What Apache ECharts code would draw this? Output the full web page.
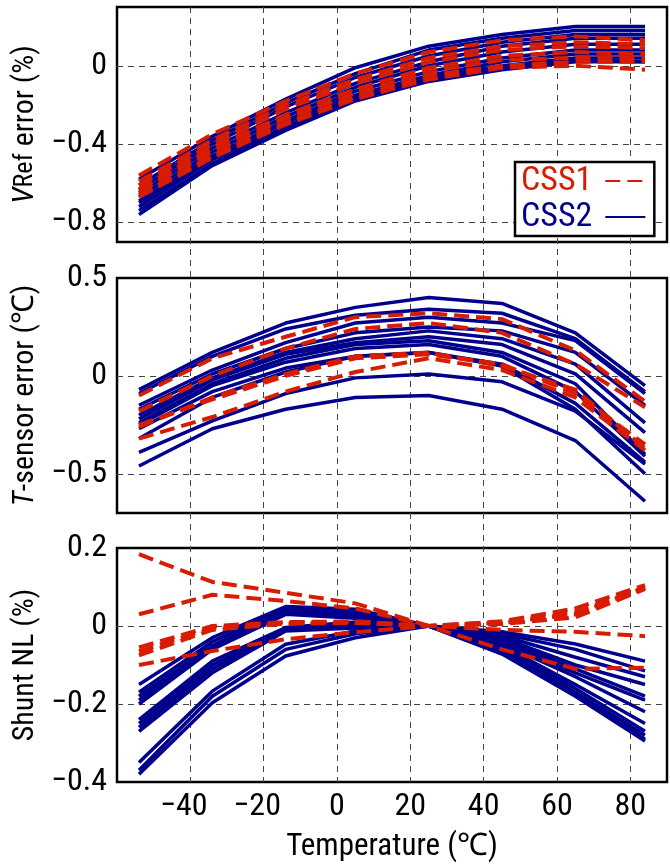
<!DOCTYPE html>
<html>
<head>
<meta charset="utf-8">
<script src="https://cdn.jsdelivr.net/npm/echarts@6/dist/echarts.min.js"></script>
<style>
html,body{margin:0;padding:0;background:#fff;}
#chart{width:670px;height:867px;}
</style>
</head>
<body>
<div id="chart"></div>
<script>
// ---- data ----
const temps = [-54, -34, -14, 5, 25, 45, 65, 84];

// Panel 1: VRef error (%)
const vrefCss1 = [
  [-0.56, -0.35, -0.18, -0.04, 0.07, 0.13, 0.15, 0.13],
  [-0.59, -0.38, -0.20, -0.07, 0.04, 0.10, 0.12, 0.11],
  [-0.61, -0.40, -0.22, -0.09, 0.02, 0.08, 0.10, 0.09],
  [-0.63, -0.42, -0.25, -0.12, -0.01, 0.05, 0.07, 0.06],
  [-0.64, -0.44, -0.27, -0.14, -0.03, 0.03, 0.04, 0.04],
  [-0.66, -0.46, -0.29, -0.16, -0.05, 0.00, 0.02, 0.02],
  [-0.67, -0.47, -0.30, -0.17, -0.07, -0.01, 0.00, -0.02]
];
const vrefCss2 = [
  [-0.58, -0.36, -0.17, -0.01, 0.10, 0.16, 0.20, 0.20],
  [-0.61, -0.38, -0.19, -0.04, 0.08, 0.14, 0.18, 0.18],
  [-0.63, -0.40, -0.21, -0.06, 0.05, 0.12, 0.16, 0.16],
  [-0.65, -0.42, -0.24, -0.09, 0.02, 0.10, 0.14, 0.14],
  [-0.67, -0.44, -0.26, -0.11, 0.00, 0.07, 0.11, 0.11],
  [-0.69, -0.46, -0.28, -0.13, -0.03, 0.04, 0.08, 0.08],
  [-0.70, -0.47, -0.29, -0.15, -0.05, 0.02, 0.06, 0.06],
  [-0.72, -0.48, -0.31, -0.16, -0.06, 0.00, 0.04, 0.04],
  [-0.74, -0.50, -0.32, -0.17, -0.07, -0.01, 0.03, 0.02],
  [-0.76, -0.51, -0.33, -0.18, -0.08, -0.02, 0.02, 0.02]
];

// Panel 2: T-sensor error (degC)
const tsenCss1 = [
  [-0.10, 0.09, 0.20, 0.30, 0.32, 0.29, 0.13, -0.13],
  [-0.18, 0.00, 0.14, 0.24, 0.27, 0.22, 0.06, -0.16],
  [-0.25, -0.12, 0.00, 0.09, 0.11, 0.06, -0.09, -0.35],
  [-0.26, -0.11, 0.01, 0.10, 0.12, 0.05, -0.07, -0.37],
  [-0.32, -0.21, -0.08, 0.02, 0.09, 0.03, -0.11, -0.38]
];
const tsenCss2 = [
  [-0.07, 0.12, 0.27, 0.35, 0.40, 0.37, 0.22, -0.05],
  [-0.09, 0.10, 0.24, 0.31, 0.34, 0.32, 0.19, -0.08],
  [-0.15, 0.03, 0.17, 0.27, 0.30, 0.27, 0.18, -0.09],
  [-0.17, 0.01, 0.14, 0.22, 0.25, 0.23, 0.12, -0.15],
  [-0.20, -0.01, 0.12, 0.19, 0.23, 0.19, 0.06, -0.24],
  [-0.22, -0.02, 0.11, 0.17, 0.20, 0.16, 0.01, -0.29],
  [-0.24, -0.04, 0.09, 0.16, 0.18, 0.12, -0.04, -0.40],
  [-0.25, -0.05, 0.07, 0.14, 0.16, 0.10, -0.08, -0.41],
  [-0.27, -0.08, 0.04, 0.10, 0.12, 0.06, -0.14, -0.44],
  [-0.32, -0.11, 0.02, 0.10, 0.12, 0.05, -0.17, -0.50],
  [-0.39, -0.23, -0.09, -0.01, 0.01, -0.03, -0.18, -0.45],
  [-0.46, -0.27, -0.17, -0.11, -0.10, -0.17, -0.33, -0.64]
];

// Panel 3: Shunt NL (%)
const shuntCss1 = [
  [0.184, 0.113, 0.085, 0.058, 0.00, -0.060, -0.110, -0.107],
  [0.030, 0.080, 0.064, 0.045, 0.00, -0.010, -0.015, -0.026],
  [-0.055, 0.000, 0.010, 0.012, 0.00, 0.012, 0.045, 0.105],
  [-0.065, -0.005, 0.008, 0.010, 0.00, 0.010, 0.035, 0.100],
  [-0.075, -0.010, 0.006, 0.008, 0.00, 0.008, 0.030, 0.098],
  [-0.100, -0.064, -0.034, -0.016, 0.00, 0.005, 0.022, 0.095]
];
const shuntCss2 = [
  [-0.15, -0.030, 0.050, 0.043, 0, -0.015, -0.046, -0.090],
  [-0.17, -0.040, 0.045, 0.035, 0, -0.020, -0.060, -0.115],
  [-0.18, -0.050, 0.040, 0.030, 0, -0.025, -0.080, -0.130],
  [-0.19, -0.055, 0.035, 0.025, 0, -0.030, -0.100, -0.150],
  [-0.20, -0.060, 0.030, 0.020, 0, -0.035, -0.110, -0.180],
  [-0.24, -0.090, -0.004, 0.010, 0, -0.040, -0.120, -0.190],
  [-0.25, -0.100, -0.008, 0.005, 0, -0.045, -0.130, -0.220],
  [-0.26, -0.110, -0.010, 0.000, 0, -0.050, -0.150, -0.250],
  [-0.27, -0.120, -0.013, -0.005, 0, -0.055, -0.160, -0.270],
  [-0.35, -0.167, -0.047, -0.013, 0, -0.060, -0.170, -0.280],
  [-0.37, -0.180, -0.060, -0.020, 0, -0.065, -0.175, -0.290],
  [-0.38, -0.197, -0.077, -0.030, 0, -0.072, -0.180, -0.295]
];

const xTickLabels = [-40, -20, 0, 20, 40, 60, 80];
const yTickLabels = [[0, -0.4, -0.8], [0.5, 0, -0.5], [0.2, 0, -0.2, -0.4]];
const yGridValues = [[0, -0.4, -0.8], [0, -0.5], [0, -0.2]];
const yRanges = [[-0.9, 0.3], [-0.7, 0.5], [-0.4, 0.2]];
const seriesNames = ['CSS1', 'CSS2'];

// ---- styling ----
const RED = '#d81c02';
const BLUE = '#00008c';
const FONT = "'Roboto Condensed', 'Liberation Sans', sans-serif";
const GRIDC = '#444';

function fmt(v) {
  const r = Math.round(v * 10) / 10;
  if (r === 0) return '0';
  return (r < 0 ? '\u2212' : '') + String(Math.abs(r));
}
function near(list, v) { return list.some(x => Math.abs(x - v) < 1e-6); }

const gridBoxes = [
  {left: 117, top: 7, width: 550, height: 235},
  {left: 117, top: 278, width: 550, height: 235},
  {left: 117, top: 548, width: 550, height: 234}
];

const grids = gridBoxes.map(g => Object.assign({show: true, borderColor: '#000', borderWidth: 2.5, backgroundColor: 'transparent'}, g));
grids.push({left: 117, top: 7, width: 550, height: 775, show: false});

const xAxes = [0, 1, 2].map(i => ({
  type: 'value', gridIndex: i, min: -60, max: 90, interval: 20,
  axisLine: {show: false}, axisTick: {show: false}, splitLine: {show: false},
  axisLabel: {
    show: i === 2, margin: 9, color: '#000', fontFamily: FONT, fontSize: 32,
    formatter: v => near(xTickLabels, v) ? (v < 0 ? '{n|\u2212' + Math.abs(v) + '}' : String(v)) : '',
    rich: {n: {padding: [0, 13, 0, 0], fontFamily: FONT, fontSize: 32, color: '#000'}}
  },
  name: i === 2 ? 'Temperature (\u2103)' : '',
  nameLocation: 'middle', nameGap: 50,
  nameTextStyle: {color: '#000', fontFamily: FONT, fontSize: 31}
}));
xAxes.push({
  type: 'value', gridIndex: 3, min: -60, max: 90, interval: 20,
  axisLine: {show: false}, axisTick: {show: false}, axisLabel: {show: false},
  splitLine: {show: true, lineStyle: {
    color: ['rgba(0,0,0,0)', GRIDC, GRIDC, GRIDC, GRIDC, GRIDC, GRIDC, GRIDC, 'rgba(0,0,0,0)'],
    type: [6, 5], width: 1}}
});

const yNames = [
  '{it|V}{sm|Ref} error (%)',
  '{it|T}-sensor error (\u2103)',
  'Shunt NL (%)'
];
const yAxes = [0, 1, 2].map(i => {
  const [mn, mx] = yRanges[i];
  const step = i === 2 ? 0.2 : 0.1;
  const n = Math.round((mx - mn) / step) + 1;
  const colors = [];
  for (let k = 0; k < n; k++) {
    const v = mn + k * step;
    colors.push(near(yGridValues[i], Math.round(v * 10) / 10) ? GRIDC : 'rgba(0,0,0,0)');
  }
  return {
    type: 'value', gridIndex: i, min: mn, max: mx, interval: step,
    axisLine: {show: false}, axisTick: {show: false},
    splitLine: {show: true, lineStyle: {color: colors, type: [6, 5], width: 1}},
    axisLabel: {
      margin: 10, color: '#000', fontFamily: FONT, fontSize: 32,
      formatter: v => near(yTickLabels[i], Math.round(v * 10) / 10) ? fmt(v) : ''
    },
    name: yNames[i], nameLocation: 'middle', nameRotate: 90, nameGap: 67,
    nameTextStyle: {
      color: '#000', fontFamily: FONT, fontSize: 30,
      rich: {
        it: {fontStyle: 'italic', fontFamily: FONT, fontSize: 30, color: '#000'},
        sm: {fontFamily: FONT, fontSize: 26, color: '#000'}
      }
    }
  };
});
yAxes.push({type: 'value', gridIndex: 3, min: 0, max: 1, show: false});

const series = [];
const panels = [[vrefCss1, vrefCss2], [tsenCss1, tsenCss2], [shuntCss1, shuntCss2]];
panels.forEach((pair, p) => {
  pair[1].forEach(line => series.push({
    type: 'line', name: seriesNames[1], xAxisIndex: p, yAxisIndex: p,
    data: temps.map((t, k) => [t, line[k]]), symbol: 'none', silent: true,
    lineStyle: {color: BLUE, width: 3.5}, itemStyle: {color: BLUE}, z: 2
  }));
});
panels.forEach((pair, p) => {
  pair[0].forEach(line => series.push({
    type: 'line', name: seriesNames[0], xAxisIndex: p, yAxisIndex: p,
    data: temps.map((t, k) => [t, line[k]]), symbol: 'none', silent: true,
    lineStyle: {color: RED, width: 4, type: [15, 7]}, itemStyle: {color: RED}, z: 3
  }));
});

const chart = echarts.init(document.getElementById('chart'), null, {renderer: 'canvas'});
chart.setOption({
  animation: false,
  backgroundColor: '#fff',
  grid: grids,
  xAxis: xAxes,
  yAxis: yAxes,
  legend: {
    orient: 'vertical', left: 515, top: 162, align: 'right',
    backgroundColor: '#fff', borderColor: '#000', borderWidth: 2.5,
    padding: [2, 8, 2, 6], itemGap: 2, itemWidth: 40, itemHeight: 14,
    selectedMode: false,
    itemStyle: {opacity: 0},
    data: [
      {name: seriesNames[0], textStyle: {color: RED}},
      {name: seriesNames[1], textStyle: {color: BLUE}}
    ],
    textStyle: {fontFamily: FONT, fontSize: 34, padding: [0, 8, 0, 0]}
  },
  series: series
});
</script>
</body>
</html>
